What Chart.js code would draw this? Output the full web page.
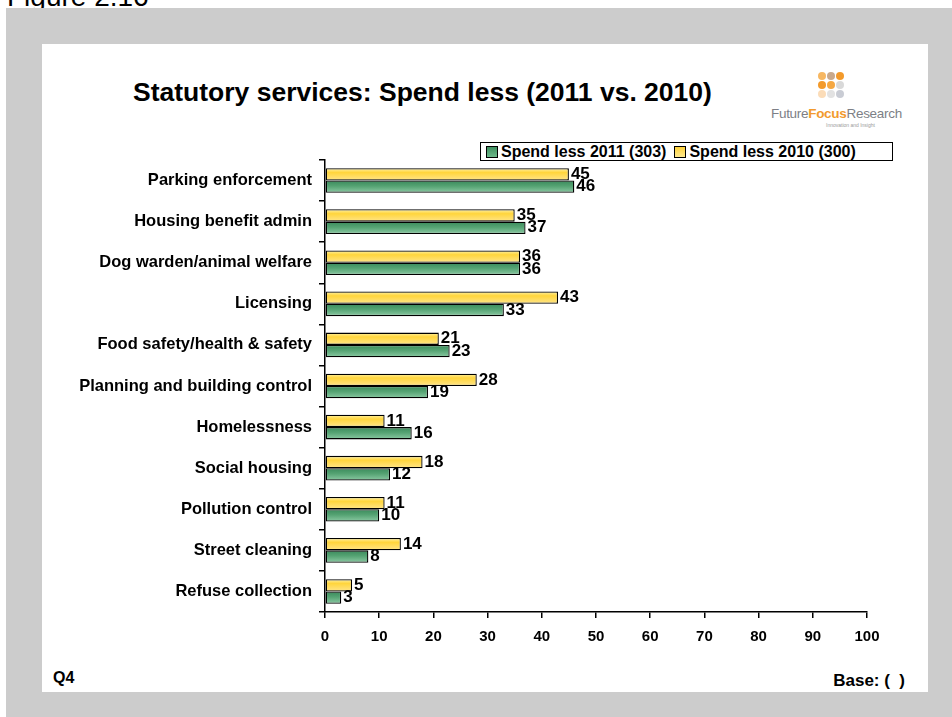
<!DOCTYPE html>
<html>
<head>
<meta charset="utf-8">
<script src="https://cdn.jsdelivr.net/npm/chart.js@4/dist/chart.umd.min.js"></script>
<style>
  html, body { margin: 0; padding: 0; }
  body {
    width: 952px; height: 717px; position: relative; overflow: hidden;
    background: #ffffff; font-family: "Liberation Sans", Arial, sans-serif; color: #000;
  }
  #figure { position: absolute; left: 7px; top: -19px; font-size: 28px; line-height: 32px; white-space: nowrap; }
  #backdrop { position: absolute; left: 6px; top: 8px; right: 0; bottom: 0; background: #cccccc; }
  #panel { position: absolute; left: 42px; top: 44px; width: 886px; height: 648px; background: #ffffff; }
  #chart { position: absolute; left: 0; top: 0; }
  .txt { position: absolute; white-space: pre; font-weight: bold; }
  #title { left: 133px; top: 77px; font-size: 26.5px; line-height: 30px; }
  #q { left: 53px; top: 668px; font-size: 16px; line-height: 20px; }
  #base { right: 47px; top: 671px; font-size: 17px; line-height: 20px; }
  #legend {
    position: absolute; left: 480px; top: 142px; width: 411px; height: 17px;
    border: 1.5px solid #000; background: #fff; display: flex; align-items: center;
    font-weight: bold; font-size: 16px; line-height: 16px; white-space: nowrap;
  }
  .sw { display: inline-block; width: 10px; height: 10px; border: 1px solid #000; margin: 0 3px 0 5px; }
  #logo { position: absolute; left: 760px; top: 68px; width: 150px; height: 60px; }
  .dot { position: absolute; width: 8px; height: 8px; border-radius: 50%; }
  #logoText { position: absolute; left: 11px; top: 38px; font-size: 13.5px; line-height: 16px; color: #7d7f86; letter-spacing: -0.3px; }
  #logoText b { color: #f29a2e; }
  #logoSub { position: absolute; left: 66px; top: 54px; font-size: 5px; line-height: 6px; color: #9a9a9a; }
</style>
</head>
<body>
<div id="figure">Figure 2.16</div>
<div id="backdrop"></div>
<div id="panel"></div>

<div id="logo">
  <div class="dot" style="left:58px;top:4px;background:#f7b761"></div>
  <div class="dot" style="left:67px;top:4px;background:#c9a98c"></div>
  <div class="dot" style="left:76px;top:4px;background:#f39a2b"></div>
  <div class="dot" style="left:58px;top:13px;background:#f39a2b"></div>
  <div class="dot" style="left:67px;top:13px;background:#f5a843"></div>
  <div class="dot" style="left:76px;top:13px;background:#d9d9d9"></div>
  <div class="dot" style="left:58px;top:22px;background:#fbdcb8"></div>
  <div class="dot" style="left:67px;top:22px;background:#e2e2e2"></div>
  <div class="dot" style="left:76px;top:22px;background:#c9ccd4"></div>
  <div id="logoText">Future<b>Focus</b>Research</div>
  <div id="logoSub">Innovation and Insight</div>
</div>

<div class="txt" id="title">Statutory services: Spend less (2011 vs. 2010)</div>

<div id="legend">
  <span class="sw" style="background:linear-gradient(#3f8f5f,#6db88a)"></span>Spend less 2011 (303)
  <span class="sw" style="background:linear-gradient(#ffd23a,#ffe98f);margin-left:8px"></span>Spend less 2010 (300)
</div>

<div class="txt" id="q">Q4</div>
<div class="txt" id="base">Base: (  )</div>

<canvas id="chart" width="952" height="717"></canvas>

<script>
// Services, listed top to bottom
const categories = [
  "Parking enforcement",
  "Housing benefit admin",
  "Dog warden/animal welfare",
  "Licensing",
  "Food safety/health & safety",
  "Planning and building control",
  "Homelessness",
  "Social housing",
  "Pollution control",
  "Street cleaning",
  "Refuse collection"
];

// Percentage of councils planning to spend less
const spendLess2010 = [45, 35, 36, 43, 21, 28, 11, 18, 11, 14, 5];
const spendLess2011 = [46, 37, 36, 33, 23, 19, 16, 12, 10, 8, 3];

const seriesNames = ["Spend less 2010 (300)", "Spend less 2011 (303)"];
const xTicks = [0, 10, 20, 30, 40, 50, 60, 70, 80, 90, 100];

const CAT_PCT = 0.6;
const FONT = '"Liberation Sans", Arial, sans-serif';

// Vertical gradient for each bar, derived from the category scale
function barFill(stops) {
  return function (ctx) {
    const chart = ctx.chart;
    const y = chart.scales.y;
    if (ctx.type !== 'data' || !y || !chart.chartArea) return stops[1][1];
    const center = y.getPixelForValue(ctx.dataIndex);
    const catH = y.height / categories.length;
    const barH = catH * CAT_PCT / 2;
    const top = ctx.datasetIndex === 0 ? center - barH : center;
    const g = chart.ctx.createLinearGradient(0, top, 0, top + barH);
    stops.forEach(s => g.addColorStop(s[0], s[1]));
    return g;
  };
}

const yellowStops = [[0, '#fff2a8'], [0.35, '#ffd53c'], [1, '#ffe58a']];
const greenStops = [[0, '#3a8a5b'], [0.45, '#55a373'], [1, '#8ccaa4']];

// Value printed at the end of each bar
const valueLabels = {
  id: 'valueLabels',
  afterDatasetsDraw(chart) {
    const c = chart.ctx;
    c.save();
    c.font = 'bold 17px ' + FONT;
    c.fillStyle = '#000';
    c.textAlign = 'left';
    c.textBaseline = 'middle';
    chart.data.datasets.forEach((ds, i) => {
      chart.getDatasetMeta(i).data.forEach((bar, j) => {
        c.fillText(String(ds.data[j]), bar.x + 2, bar.y);
      });
    });
    c.restore();
  }
};

new Chart(document.getElementById('chart'), {
  type: 'bar',
  data: {
    labels: categories,
    datasets: [
      {
        label: seriesNames[0],
        data: spendLess2010,
        backgroundColor: barFill(yellowStops),
        borderColor: '#000',
        borderWidth: 1.3,
        borderSkipped: false,
        categoryPercentage: CAT_PCT,
        barPercentage: 1.0
      },
      {
        label: seriesNames[1],
        data: spendLess2011,
        backgroundColor: barFill(greenStops),
        borderColor: '#000',
        borderWidth: 1.3,
        borderSkipped: false,
        categoryPercentage: CAT_PCT,
        barPercentage: 1.0
      }
    ]
  },
  options: {
    indexAxis: 'y',
    responsive: false,
    animation: false,
    events: [],
    layout: { padding: { left: 0, right: 85, top: 160, bottom: 0 } },
    plugins: { legend: { display: false }, title: { display: false }, tooltip: { enabled: false } },
    scales: {
      x: {
        type: 'linear',
        min: 0, max: 100,
        afterBuildTicks(s) { s.ticks = xTicks.map(v => ({ value: v })); },
        afterFit(s) { s.height = 105; },
        grid: { drawOnChartArea: false, drawTicks: true, tickLength: 6, color: '#000', lineWidth: 1.5 },
        border: { display: true, color: '#000', width: 1.5 },
        ticks: { color: '#000', padding: 10, font: { family: FONT, size: 15, weight: 'bold' }, maxRotation: 0 }
      },
      y: {
        type: 'category',
        afterFit(s) { s.width = 325; },
        grid: { offset: true, drawOnChartArea: false, drawTicks: true, tickLength: 6, color: '#000', lineWidth: 1.5 },
        border: { display: true, color: '#000', width: 1.5 },
        ticks: { color: '#000', padding: 7, font: { family: FONT, size: 16.5, weight: 'bold' }, autoSkip: false }
      }
    }
  },
  plugins: [valueLabels]
});
</script>
</body>
</html>
